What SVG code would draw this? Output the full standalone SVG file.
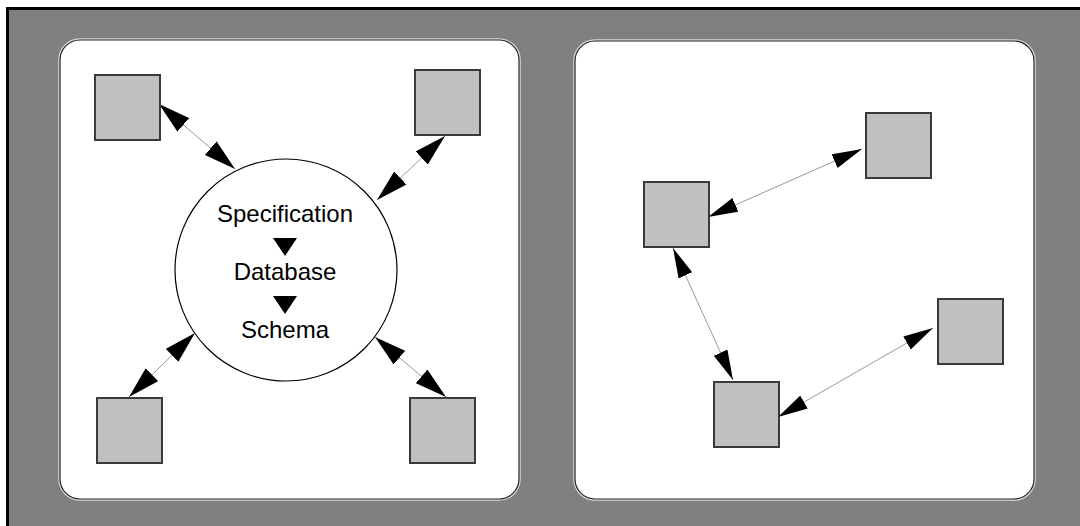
<svg xmlns="http://www.w3.org/2000/svg" width="1080" height="526" viewBox="0 0 1080 526">
  <style>
    .panel { fill: #ffffff; stroke: #222222; stroke-width: 1.2; }
    .halo { fill: none; stroke: #d8d8d8; stroke-width: 3.5; }
    .box { fill: #c0c0c0; stroke: #3a3a3a; stroke-width: 2; }
    .conn { stroke: #999999; stroke-width: 1; fill: none; }
    .big { marker-start: url(#ahL); marker-end: url(#ahL); }
    .small { marker-start: url(#ahS); marker-end: url(#ahS); }
    .lbl { font-family: "Liberation Sans", Arial, sans-serif; font-size: 24px; fill: #000000; text-anchor: middle; }
  </style>
  <defs>
    <marker id="ahL" markerUnits="userSpaceOnUse" viewBox="0 0 32 18" markerWidth="32" markerHeight="18" refX="32" refY="9" orient="auto-start-reverse">
      <path d="M0,0 L32,9 L0,18 Z" fill="#000000"/>
    </marker>
    <marker id="ahS" markerUnits="userSpaceOnUse" viewBox="0 0 30 15" markerWidth="30" markerHeight="15" refX="30" refY="7.5" orient="auto-start-reverse">
      <path d="M0,0 L30,7.5 L0,15 Z" fill="#000000"/>
    </marker>
  </defs>
  <rect x="0" y="0" width="1080" height="526" fill="#ffffff"/>
  <rect x="7" y="9" width="1073" height="517" fill="#808080"/>
  <path d="M7.5,526 L7.5,8.5 L1080,8.5" fill="none" stroke="#000000" stroke-width="3"/>

  <g id="panel-left">
    <rect class="halo" x="60" y="40" width="459" height="459" rx="20"/>
    <rect class="panel" x="60" y="40" width="459" height="459" rx="20"/>
  </g>
  <g id="panel-right">
    <rect class="halo" x="575" y="41" width="459" height="458" rx="20"/>
    <rect class="panel" x="575" y="41" width="459" height="458" rx="20"/>
  </g>

  <g id="connectors">
    <line class="conn big" x1="159" y1="104" x2="235" y2="169"/>
    <line class="conn big" x1="445" y1="136" x2="377" y2="200"/>
    <line class="conn big" x1="195" y1="333" x2="129" y2="397"/>
    <line class="conn big" x1="375" y1="337" x2="446" y2="397"/>
    <line class="conn small" x1="708" y1="217" x2="862" y2="149"/>
    <line class="conn small" x1="673" y1="248" x2="733" y2="380"/>
    <line class="conn small" x1="778" y1="417" x2="933" y2="328"/>
  </g>

  <g id="hub">
    <circle cx="286" cy="270" r="111" fill="#ffffff" stroke="#000000" stroke-width="1.2"/>
    <text class="lbl" x="285" y="222">Specification</text>
    <polygon points="273,238 297,238 285,256" fill="#000000"/>
    <text class="lbl" x="285" y="280">Database</text>
    <polygon points="273,296 297,296 285,314" fill="#000000"/>
    <text class="lbl" x="285" y="338">Schema</text>
  </g>

  <g id="node-l1"><rect class="box" x="95" y="75" width="65" height="65"/></g>
  <g id="node-l2"><rect class="box" x="415" y="70" width="65" height="65"/></g>
  <g id="node-l3"><rect class="box" x="97" y="398" width="65" height="65"/></g>
  <g id="node-l4"><rect class="box" x="410" y="398" width="65" height="65"/></g>

  <g id="node-r1"><rect class="box" x="866" y="113" width="65" height="65"/></g>
  <g id="node-r2"><rect class="box" x="644" y="182" width="65" height="65"/></g>
  <g id="node-r3"><rect class="box" x="938" y="299" width="65" height="65"/></g>
  <g id="node-r4"><rect class="box" x="714" y="382" width="65" height="65"/></g>
</svg>
